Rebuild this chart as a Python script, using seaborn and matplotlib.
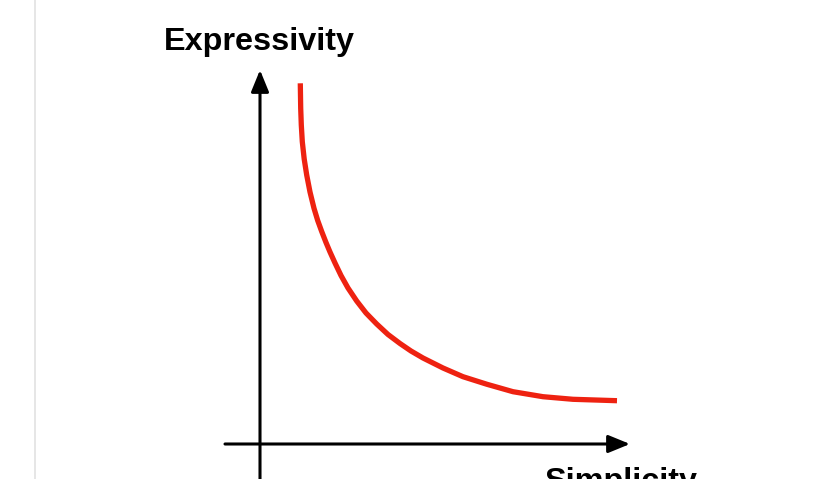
import numpy as np
import pandas as pd
import matplotlib.pyplot as plt
import seaborn as sns

sns.set_theme(style='white')
plt.rcParams['font.family'] = ['Liberation Sans', 'DejaVu Sans']

# --- trade-off curve (origin at the axes crossing) ---
simplicity = [40.3, 40.5, 40.7, 41.3, 42.3, 44.2, 46.7, 50, 54, 57.7, 61.7,
              66, 70, 75, 81, 88, 96.7, 106, 116.7, 128, 140, 151, 163, 183,
              203, 227, 253, 283, 313, 357]
expressivity = [360.7, 348, 335.7, 319, 302.3, 285, 269, 252, 235.7, 223.5,
                212.5, 201.5, 192, 181, 168.5, 156, 143, 131, 120, 109.5,
                100.5, 93, 86, 76, 67.3, 59.7, 52.3, 47.3, 44.7, 43.3]
curve = pd.DataFrame({'simplicity': simplicity, 'expressivity': expressivity})

x_label = 'Simplicity'
y_label = 'Expressivity'

fig = plt.figure(figsize=(8.33, 4.79), dpi=100)
ax = fig.add_axes([0, 0, 1, 1])
ax.set_xlim(-260, 573)
ax.set_ylim(-35, 444)
ax.set_axis_off()

# faint page edge on the left
ax.plot([-225, -225], [-35, 444], color='#e2e2e2', lw=1.2)

# hand-drawn axes with arrow heads
arrow = dict(arrowstyle='-|>,head_length=1.1,head_width=0.45',
             color='black', lw=2.2, shrinkA=0, shrinkB=0)
ax.annotate('', xy=(370, 0), xytext=(-35, 0), arrowprops=arrow)
ax.annotate('', xy=(0, 374), xytext=(0, -40), arrowprops=arrow)

sns.lineplot(data=curve, x='simplicity', y='expressivity', ax=ax,
             color='#ee2211', lw=3.8, sort=False, estimator=None)
ax.lines[-1].set_solid_capstyle('butt')
ax.lines[-1].set_solid_joinstyle('round')
ax.set_xlabel('')
ax.set_ylabel('')

ax.text(-96, 394, y_label, fontsize=23.3, fontweight='bold',
        color='black', va='baseline')
ax.text(284, -46, x_label, fontsize=23.3, fontweight='bold',
        color='black', va='baseline')

fig.savefig('out.png', dpi=100)
